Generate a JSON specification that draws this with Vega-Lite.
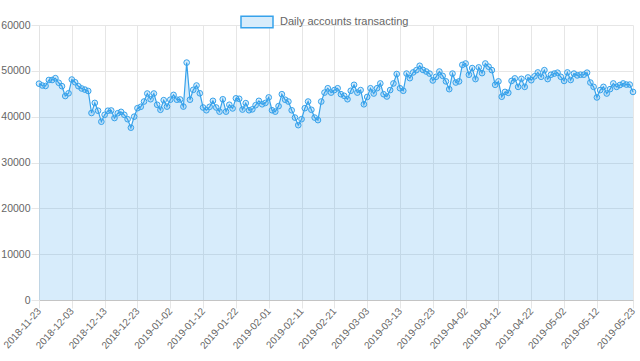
{
  "$schema": "https://vega.github.io/schema/vega-lite/v6.json",
  "width": 594,
  "height": 275,
  "autosize": "none",
  "padding": {"left": 39, "top": 25, "right": 7, "bottom": 61},
  "background": "white",
  "data": {"values": [
    {"date":"2018-11-23","accounts":47200},{"date":"2018-11-24","accounts":46800},{"date":"2018-11-25","accounts":46700},{"date":"2018-11-26","accounts":48000},{"date":"2018-11-27","accounts":48000},{"date":"2018-11-28","accounts":48400},{"date":"2018-11-29","accounts":47400},{"date":"2018-11-30","accounts":46650},
    {"date":"2018-12-01","accounts":44500},{"date":"2018-12-02","accounts":45100},{"date":"2018-12-03","accounts":48100},{"date":"2018-12-04","accounts":47500},{"date":"2018-12-05","accounts":46650},{"date":"2018-12-06","accounts":46150},{"date":"2018-12-07","accounts":45900},{"date":"2018-12-08","accounts":45600},{"date":"2018-12-09","accounts":40800},{"date":"2018-12-10","accounts":43000},{"date":"2018-12-11","accounts":41300},{"date":"2018-12-12","accounts":38900},{"date":"2018-12-13","accounts":40400},{"date":"2018-12-14","accounts":41300},{"date":"2018-12-15","accounts":41350},{"date":"2018-12-16","accounts":39700},{"date":"2018-12-17","accounts":40750},{"date":"2018-12-18","accounts":41050},{"date":"2018-12-19","accounts":40400},{"date":"2018-12-20","accounts":39450},{"date":"2018-12-21","accounts":37600},{"date":"2018-12-22","accounts":40000},{"date":"2018-12-23","accounts":41850},{"date":"2018-12-24","accounts":42150},{"date":"2018-12-25","accounts":43300},{"date":"2018-12-26","accounts":45050},{"date":"2018-12-27","accounts":43800},{"date":"2018-12-28","accounts":45050},{"date":"2018-12-29","accounts":42600},{"date":"2018-12-30","accounts":41500},{"date":"2018-12-31","accounts":43600},
    {"date":"2019-01-01","accounts":42200},{"date":"2019-01-02","accounts":43700},{"date":"2019-01-03","accounts":44750},{"date":"2019-01-04","accounts":43700},{"date":"2019-01-05","accounts":43750},{"date":"2019-01-06","accounts":42200},{"date":"2019-01-07","accounts":51800},{"date":"2019-01-08","accounts":43700},{"date":"2019-01-09","accounts":45850},{"date":"2019-01-10","accounts":46800},{"date":"2019-01-11","accounts":45100},{"date":"2019-01-12","accounts":42000},{"date":"2019-01-13","accounts":41400},{"date":"2019-01-14","accounts":42150},{"date":"2019-01-15","accounts":43450},{"date":"2019-01-16","accounts":42000},{"date":"2019-01-17","accounts":41100},{"date":"2019-01-18","accounts":43800},{"date":"2019-01-19","accounts":41100},{"date":"2019-01-20","accounts":42600},{"date":"2019-01-21","accounts":41800},{"date":"2019-01-22","accounts":44000},{"date":"2019-01-23","accounts":43900},{"date":"2019-01-24","accounts":41550},{"date":"2019-01-25","accounts":42950},{"date":"2019-01-26","accounts":41400},{"date":"2019-01-27","accounts":41600},{"date":"2019-01-28","accounts":42500},{"date":"2019-01-29","accounts":43450},{"date":"2019-01-30","accounts":42700},{"date":"2019-01-31","accounts":43000},
    {"date":"2019-02-01","accounts":44200},{"date":"2019-02-02","accounts":41400},{"date":"2019-02-03","accounts":41100},{"date":"2019-02-04","accounts":42300},{"date":"2019-02-05","accounts":44900},{"date":"2019-02-06","accounts":43700},{"date":"2019-02-07","accounts":43300},{"date":"2019-02-08","accounts":41400},{"date":"2019-02-09","accounts":39800},{"date":"2019-02-10","accounts":38150},{"date":"2019-02-11","accounts":39450},{"date":"2019-02-12","accounts":41850},{"date":"2019-02-13","accounts":43300},{"date":"2019-02-14","accounts":41500},{"date":"2019-02-15","accounts":39800},{"date":"2019-02-16","accounts":39250},{"date":"2019-02-17","accounts":43300},{"date":"2019-02-18","accounts":45250},{"date":"2019-02-19","accounts":46200},{"date":"2019-02-20","accounts":45250},{"date":"2019-02-21","accounts":45800},{"date":"2019-02-22","accounts":46200},{"date":"2019-02-23","accounts":44900},{"date":"2019-02-24","accounts":44550},{"date":"2019-02-25","accounts":43800},{"date":"2019-02-26","accounts":45650},{"date":"2019-02-27","accounts":46950},{"date":"2019-02-28","accounts":45250},
    {"date":"2019-03-01","accounts":45800},{"date":"2019-03-02","accounts":42700},{"date":"2019-03-03","accounts":44300},{"date":"2019-03-04","accounts":46200},{"date":"2019-03-05","accounts":45050},{"date":"2019-03-06","accounts":46200},{"date":"2019-03-07","accounts":47250},{"date":"2019-03-08","accounts":44900},{"date":"2019-03-09","accounts":44400},{"date":"2019-03-10","accounts":45800},{"date":"2019-03-11","accounts":47250},{"date":"2019-03-12","accounts":49300},{"date":"2019-03-13","accounts":46200},{"date":"2019-03-14","accounts":45650},{"date":"2019-03-15","accounts":49400},{"date":"2019-03-16","accounts":48400},{"date":"2019-03-17","accounts":49650},{"date":"2019-03-18","accounts":50150},{"date":"2019-03-19","accounts":51100},{"date":"2019-03-20","accounts":50200},{"date":"2019-03-21","accounts":49850},{"date":"2019-03-22","accounts":49400},{"date":"2019-03-23","accounts":47900},{"date":"2019-03-24","accounts":48700},{"date":"2019-03-25","accounts":49850},{"date":"2019-03-26","accounts":48900},{"date":"2019-03-27","accounts":47700},{"date":"2019-03-28","accounts":46000},{"date":"2019-03-29","accounts":49400},{"date":"2019-03-30","accounts":47450},{"date":"2019-03-31","accounts":47700},
    {"date":"2019-04-01","accounts":51300},{"date":"2019-04-02","accounts":51600},{"date":"2019-04-03","accounts":49150},{"date":"2019-04-04","accounts":50600},{"date":"2019-04-05","accounts":48200},{"date":"2019-04-06","accounts":50750},{"date":"2019-04-07","accounts":49500},{"date":"2019-04-08","accounts":51600},{"date":"2019-04-09","accounts":50900},{"date":"2019-04-10","accounts":50150},{"date":"2019-04-11","accounts":46950},{"date":"2019-04-12","accounts":47700},{"date":"2019-04-13","accounts":44350},{"date":"2019-04-14","accounts":45400},{"date":"2019-04-15","accounts":45200},{"date":"2019-04-16","accounts":47800},{"date":"2019-04-17","accounts":48350},{"date":"2019-04-18","accounts":46500},{"date":"2019-04-19","accounts":48250},{"date":"2019-04-20","accounts":46500},{"date":"2019-04-21","accounts":48550},{"date":"2019-04-22","accounts":47950},{"date":"2019-04-23","accounts":48800},{"date":"2019-04-24","accounts":49650},{"date":"2019-04-25","accounts":48700},{"date":"2019-04-26","accounts":50150},{"date":"2019-04-27","accounts":48200},{"date":"2019-04-28","accounts":49150},{"date":"2019-04-29","accounts":49400},{"date":"2019-04-30","accounts":49600},
    {"date":"2019-05-01","accounts":48700},{"date":"2019-05-02","accounts":47800},{"date":"2019-05-03","accounts":49650},{"date":"2019-05-04","accounts":48000},{"date":"2019-05-05","accounts":49400},{"date":"2019-05-06","accounts":49000},{"date":"2019-05-07","accounts":49150},{"date":"2019-05-08","accounts":49150},{"date":"2019-05-09","accounts":49600},{"date":"2019-05-10","accounts":47450},{"date":"2019-05-11","accounts":46500},{"date":"2019-05-12","accounts":44200},{"date":"2019-05-13","accounts":45800},{"date":"2019-05-14","accounts":46500},{"date":"2019-05-15","accounts":45050},{"date":"2019-05-16","accounts":46000},{"date":"2019-05-17","accounts":47250},{"date":"2019-05-18","accounts":46500},{"date":"2019-05-19","accounts":46900},{"date":"2019-05-20","accounts":47250},{"date":"2019-05-21","accounts":47000},{"date":"2019-05-22","accounts":47000},{"date":"2019-05-23","accounts":45400}
  ]},
  "encoding": {
    "x": {
      "field": "date", "type": "temporal",
      "scale": {"type": "utc", "nice": false, "domain": [{"year": 2018, "month": 11, "date": 23, "utc": true}, {"year": 2019, "month": 5, "date": 23, "utc": true}]},
      "axis": {
        "title": null, "format": "%Y-%m-%d", "labelAngle": -48, "labelFontSize": 10, "labelOverlap": false, "labelBound": false, "labelFlush": false,
        "values": [
          {"year": 2018, "month": 11, "date": 23, "utc": true},
          {"year": 2018, "month": 12, "date": 3, "utc": true},
          {"year": 2018, "month": 12, "date": 13, "utc": true},
          {"year": 2018, "month": 12, "date": 23, "utc": true},
          {"year": 2019, "month": 1, "date": 2, "utc": true},
          {"year": 2019, "month": 1, "date": 12, "utc": true},
          {"year": 2019, "month": 1, "date": 22, "utc": true},
          {"year": 2019, "month": 2, "date": 1, "utc": true},
          {"year": 2019, "month": 2, "date": 11, "utc": true},
          {"year": 2019, "month": 2, "date": 21, "utc": true},
          {"year": 2019, "month": 3, "date": 3, "utc": true},
          {"year": 2019, "month": 3, "date": 13, "utc": true},
          {"year": 2019, "month": 3, "date": 23, "utc": true},
          {"year": 2019, "month": 4, "date": 2, "utc": true},
          {"year": 2019, "month": 4, "date": 12, "utc": true},
          {"year": 2019, "month": 4, "date": 22, "utc": true},
          {"year": 2019, "month": 5, "date": 2, "utc": true},
          {"year": 2019, "month": 5, "date": 12, "utc": true},
          {"year": 2019, "month": 5, "date": 23, "utc": true}
        ],
        "domain": true, "domainColor": "#c4c4c4", "tickSize": 8, "labelPadding": 1
      }
    },
    "y": {
      "field": "accounts", "type": "quantitative",
      "scale": {"domain": [0, 60000], "nice": false},
      "axis": {"title": null, "values": [0, 10000, 20000, 30000, 40000, 50000, 60000], "format": "d", "domain": true, "domainColor": "#e3e3e3", "tickSize": 8, "labelPadding": 1}
    }
  },
  "layer": [
    {"mark": {"type": "area", "color": "#36a2eb", "fillOpacity": 0.2, "line": false}},
    {"mark": {"type": "line", "strokeWidth": 1.2, "color": "#36a2eb"},
     "encoding": {"stroke": {"datum": "Daily accounts transacting", "type": "nominal", "scale": {"range": ["#36a2eb"]},
       "legend": {"orient": "none", "legendX": 201, "legendY": -20, "title": null, "symbolType": "M-1,-0.36H1V0.36H-1Z", "symbolSize": 1024, "symbolFillColor": "#d7ecfb", "symbolStrokeWidth": 1.5, "labelFontSize": 11, "labelFont": "Liberation Sans", "labelColor": "#666", "labelOffset": 6, "padding": 0}}}},
    {"mark": {"type": "point", "shape": "circle", "filled": false, "size": 32, "strokeWidth": 1, "stroke": "#36a2eb", "fill": "#36a2eb", "fillOpacity": 0.2}}
  ],
  "config": {
    "view": {"stroke": null},
    "font": "Liberation Sans",
    "axis": {"labelColor": "#666", "labelFontSize": 10.5, "labelFont": "Liberation Sans", "gridColor": "#e6e6e6", "tickColor": "#e6e6e6", "grid": true}
  }
}
